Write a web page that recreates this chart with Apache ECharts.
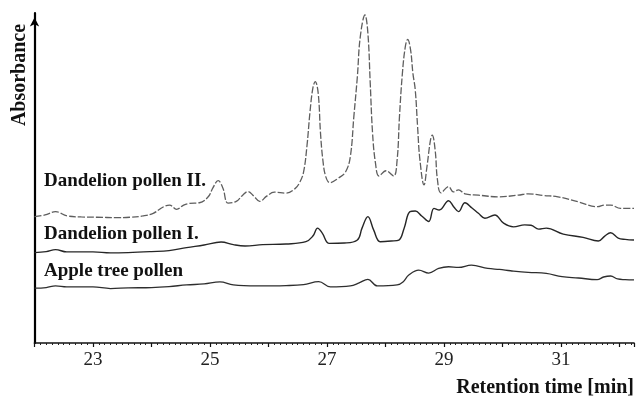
<!DOCTYPE html>
<html>
<head>
<meta charset="utf-8">
<script src="https://cdn.jsdelivr.net/npm/echarts@6/dist/echarts.min.js"></script>
<style>
  html, body { margin: 0; padding: 0; background: #fff; }
  #chart { width: 637px; height: 399px; }
</style>
</head>
<body>
<div id="chart"></div>
<script>
// HPLC chromatograms of pollen extracts, stacked traces (absorbance, arbitrary units)
const timeII = [22.00,22.18,22.36,22.56,22.80,23.07,23.40,23.63,23.85,24.03,24.20,24.31,24.43,24.55,24.65,24.82,24.97,25.05,25.14,25.22,25.31,25.45,25.56,25.65,25.75,25.85,25.97,26.10,26.30,26.45,26.53,26.60,26.66,26.71,26.76,26.80,26.85,26.89,26.93,26.98,27.05,27.20,27.32,27.40,27.46,27.52,27.57,27.65,27.70,27.74,27.78,27.83,27.89,28.01,28.14,28.20,28.24,28.29,28.34,28.38,28.43,28.47,28.51,28.55,28.59,28.66,28.71,28.77,28.80,28.85,28.89,28.95,29.08,29.16,29.25,29.36,29.59,29.93,30.27,30.44,30.70,30.95,31.29,31.63,31.74,31.85,32.02,32.25];
const absII = [38.3,38.8,39.8,38.5,38.2,38.1,38.0,38.1,38.5,39.3,41.2,41.8,40.5,41.8,42.3,42.5,44.3,47.0,49.2,47.0,42.4,42.9,44.8,45.9,44.5,42.9,44.5,45.7,45.4,46.7,48.5,51.8,60.0,70.0,77.3,79.2,75.8,63.6,55.5,50.4,48.6,50.0,51.9,56.5,68.6,80.7,92.8,99.4,93.9,78.8,63.6,54.5,50.6,52.2,50.6,55.5,68.6,81.7,89.8,92.0,88.8,81.7,76.7,65.5,55.5,47.9,53.4,61.5,63.0,58.5,49.4,45.5,47.4,45.8,46.4,45.2,44.8,44.3,44.8,45.2,44.7,44.3,42.8,41.3,41.8,41.8,40.8,40.8];

const timeI = [22.00,22.20,22.36,22.55,23.00,23.30,23.60,24.00,24.30,24.60,24.90,25.19,25.40,25.60,25.90,26.30,26.64,26.76,26.84,26.92,27.04,27.30,27.52,27.60,27.70,27.80,27.91,28.10,28.23,28.32,28.42,28.51,28.62,28.74,28.83,28.92,29.08,29.17,29.25,29.36,29.48,29.59,29.70,29.87,30.02,30.19,30.38,30.49,30.62,30.75,31.04,31.38,31.64,31.75,31.85,31.98,32.10,32.25];
const absI = [27.4,27.7,28.3,27.6,27.6,27.3,27.4,27.7,28.0,28.9,29.7,30.6,29.8,29.4,29.8,30.0,30.7,32.4,34.8,33.3,30.2,30.3,31.2,34.8,38.3,34.2,30.7,30.9,31.2,34.8,39.8,40.0,38.5,36.8,40.8,40.3,43.1,41.2,39.8,42.5,40.9,39.3,37.8,38.8,36.3,35.2,35.8,35.7,34.5,34.8,33.0,32.0,30.9,32.4,33.4,31.8,31.4,31.2];

const timeApple = [22.00,22.20,22.36,22.55,23.00,23.30,23.60,24.00,24.30,24.60,24.90,25.17,25.40,25.80,26.30,26.60,26.86,27.06,27.40,27.55,27.70,27.86,28.20,28.30,28.40,28.57,28.74,28.91,29.08,29.25,29.47,29.75,29.95,30.14,30.44,30.75,31.02,31.30,31.62,31.73,31.85,31.97,32.10,32.25];
const absApple = [16.6,16.8,17.3,17.0,17.0,16.5,16.7,16.8,17.1,17.6,17.9,18.5,17.6,17.3,17.4,17.7,18.6,17.0,17.3,18.2,19.3,17.3,17.6,18.5,20.6,22.1,21.2,22.6,23.1,22.9,23.6,22.6,22.3,21.9,21.4,21.1,20.1,19.7,19.2,20.0,20.3,19.4,19.2,19.1];

const traceNames = ['Dandelion pollen II.', 'Dandelion pollen I.', 'Apple tree pollen'];
const xAxisTitle = 'Retention time [min]';
const yAxisTitle = 'Absorbance';

const pairs = (t, v) => t.map((x, i) => [x, v[i]]);

const serif = '"Liberation Serif", "DejaVu Serif", "Times New Roman", serif';

const chart = echarts.init(document.getElementById('chart'), null, { renderer: 'canvas' });

chart.setOption({
  animation: false,
  backgroundColor: '#ffffff',
  grid: { left: 34.5, right: 0, top: 13, bottom: 56 },
  xAxis: {
    type: 'value',
    min: 22,
    max: 32.25,
    interval: 1,
    axisLine: { show: true, lineStyle: { color: '#111', width: 1.7 } },
    axisTick: { show: true, length: 4, lineStyle: { color: '#111', width: 1.2 } },
    minorTick: { show: true, splitNumber: 10, length: 2, lineStyle: { color: '#222', width: 1 } },
    splitLine: { show: false },
    axisLabel: {
      margin: 8,
      color: '#222',
      fontFamily: serif,
      fontSize: 19,
      formatter: v => (Math.round(v) % 2 === 1 ? String(Math.round(v)) : '')
    }
  },
  yAxis: {
    type: 'value',
    min: 0,
    max: 100,
    axisLine: {
      show: true,
      onZero: false,
      symbol: ['none', 'arrow'],
      symbolSize: [7, 9],
      symbolOffset: [0, -4.5],
      lineStyle: { color: '#000', width: 2.2 }
    },
    axisTick: { show: false },
    axisLabel: { show: false },
    splitLine: { show: false }
  },
  series: [
    {
      name: traceNames[0],
      type: 'line',
      data: pairs(timeII, absII),
      showSymbol: false,
      smooth: 0.4,
      lineStyle: { color: '#5e5e5e', width: 1.3, type: [7, 2] }
    },
    {
      name: traceNames[1],
      type: 'line',
      data: pairs(timeI, absI),
      showSymbol: false,
      smooth: 0.4,
      lineStyle: { color: '#262626', width: 1.4 }
    },
    {
      name: traceNames[2],
      type: 'line',
      data: pairs(timeApple, absApple),
      showSymbol: false,
      smooth: 0.4,
      lineStyle: { color: '#2e2e2e', width: 1.3 }
    }
  ],
  graphic: [
    {
      type: 'text', left: 44, top: 172,
      style: { text: traceNames[0], font: 'bold 19px ' + serif, fill: '#111' }
    },
    {
      type: 'text', left: 44, top: 225,
      style: { text: traceNames[1], font: 'bold 19px ' + serif, fill: '#111' }
    },
    {
      type: 'text', left: 44, top: 262,
      style: { text: traceNames[2], font: 'bold 19px ' + serif, fill: '#111' }
    },
    {
      type: 'text', right: 3, top: 378,
      style: { text: xAxisTitle, font: 'bold 20px ' + serif, fill: '#111' }
    },
    {
      type: 'text', x: 20, y: 75, rotation: Math.PI / 2,
      style: { text: yAxisTitle, font: 'bold 20px ' + serif, fill: '#111', align: 'center', verticalAlign: 'middle' }
    }
  ]
});
</script>
</body>
</html>
